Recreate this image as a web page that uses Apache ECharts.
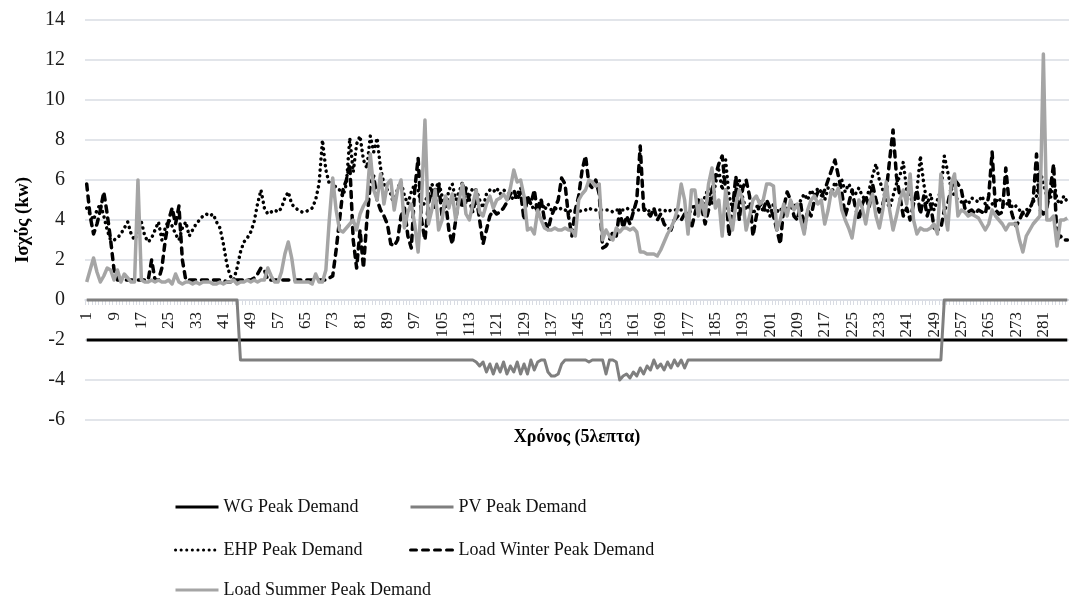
<!DOCTYPE html>
<html>
<head>
<meta charset="utf-8">
<script src="https://cdn.jsdelivr.net/npm/echarts@6/dist/echarts.min.js"></script>
<style>
  html, body { margin: 0; padding: 0; background: #fff; }
  #chart { width: 1069px; height: 600px; }
</style>
</head>
<body>
<div id="chart"></div>
<script>
// 5-minute slots of one day: 1..288
const slots = [];
for (let i = 1; i <= 288; i++) slots.push(String(i));

const wgPeak = [
  -2, -2, -2, -2, -2, -2, -2, -2, -2, -2, -2, -2, -2, -2, -2, -2,
  -2, -2, -2, -2, -2, -2, -2, -2, -2, -2, -2, -2, -2, -2, -2, -2,
  -2, -2, -2, -2, -2, -2, -2, -2, -2, -2, -2, -2, -2, -2, -2, -2,
  -2, -2, -2, -2, -2, -2, -2, -2, -2, -2, -2, -2, -2, -2, -2, -2,
  -2, -2, -2, -2, -2, -2, -2, -2, -2, -2, -2, -2, -2, -2, -2, -2,
  -2, -2, -2, -2, -2, -2, -2, -2, -2, -2, -2, -2, -2, -2, -2, -2,
  -2, -2, -2, -2, -2, -2, -2, -2, -2, -2, -2, -2, -2, -2, -2, -2,
  -2, -2, -2, -2, -2, -2, -2, -2, -2, -2, -2, -2, -2, -2, -2, -2,
  -2, -2, -2, -2, -2, -2, -2, -2, -2, -2, -2, -2, -2, -2, -2, -2,
  -2, -2, -2, -2, -2, -2, -2, -2, -2, -2, -2, -2, -2, -2, -2, -2,
  -2, -2, -2, -2, -2, -2, -2, -2, -2, -2, -2, -2, -2, -2, -2, -2,
  -2, -2, -2, -2, -2, -2, -2, -2, -2, -2, -2, -2, -2, -2, -2, -2,
  -2, -2, -2, -2, -2, -2, -2, -2, -2, -2, -2, -2, -2, -2, -2, -2,
  -2, -2, -2, -2, -2, -2, -2, -2, -2, -2, -2, -2, -2, -2, -2, -2,
  -2, -2, -2, -2, -2, -2, -2, -2, -2, -2, -2, -2, -2, -2, -2, -2,
  -2, -2, -2, -2, -2, -2, -2, -2, -2, -2, -2, -2, -2, -2, -2, -2,
  -2, -2, -2, -2, -2, -2, -2, -2, -2, -2, -2, -2, -2, -2, -2, -2,
  -2, -2, -2, -2, -2, -2, -2, -2, -2, -2, -2, -2, -2, -2, -2, -2
];

const pvPeak = [
  0, 0, 0, 0, 0, 0, 0, 0, 0, 0, 0, 0, 0, 0, 0, 0,
  0, 0, 0, 0, 0, 0, 0, 0, 0, 0, 0, 0, 0, 0, 0, 0,
  0, 0, 0, 0, 0, 0, 0, 0, 0, 0, 0, 0, 0, -3, -3, -3,
  -3, -3, -3, -3, -3, -3, -3, -3, -3, -3, -3, -3, -3, -3, -3, -3,
  -3, -3, -3, -3, -3, -3, -3, -3, -3, -3, -3, -3, -3, -3, -3, -3,
  -3, -3, -3, -3, -3, -3, -3, -3, -3, -3, -3, -3, -3, -3, -3, -3,
  -3, -3, -3, -3, -3, -3, -3, -3, -3, -3, -3, -3, -3, -3, -3, -3,
  -3, -3, -3.1, -3.3, -3.1, -3.6, -3.2, -3.7, -3.2, -3.6, -3.1, -3.7, -3.3, -3.6, -3.1, -3.7,
  -3.2, -3.7, -3.0, -3.5, -3.1, -3.0, -3.0, -3.6, -3.8, -3.8, -3.7, -3.2, -3.0, -3.0, -3.0, -3.0,
  -3.0, -3.0, -3.0, -3.1, -3.0, -3.0, -3.0, -3.0, -3.7, -3.0, -3.0, -3.1, -4.0, -3.8, -3.7, -3.9,
  -3.6, -3.8, -3.4, -3.7, -3.3, -3.5, -3.0, -3.4, -3.2, -3.5, -3.1, -3.4, -3.0, -3.3, -3.0, -3.4,
  -3, -3, -3, -3, -3, -3, -3, -3, -3, -3, -3, -3, -3, -3, -3, -3,
  -3, -3, -3, -3, -3, -3, -3, -3, -3, -3, -3, -3, -3, -3, -3, -3,
  -3, -3, -3, -3, -3, -3, -3, -3, -3, -3, -3, -3, -3, -3, -3, -3,
  -3, -3, -3, -3, -3, -3, -3, -3, -3, -3, -3, -3, -3, -3, -3, -3,
  -3, -3, -3, -3, -3, -3, -3, -3, -3, -3, -3, 0, 0, 0, 0, 0,
  0, 0, 0, 0, 0, 0, 0, 0, 0, 0, 0, 0, 0, 0, 0, 0,
  0, 0, 0, 0, 0, 0, 0, 0, 0, 0, 0, 0, 0, 0, 0, 0
];

const ehpPeak = [
  4.6, 4.3, 4.0, 4.5, 4.8, 4.2, 3.5, 3.0, 3.0, 3.1, 3.3, 3.6, 3.9, 3.3, 3.0, 3.4,
  3.9, 3.2, 2.9, 3.1, 3.5, 3.9, 3.0, 3.6, 4.0, 3.7, 3.3, 3.0, 3.6, 3.9, 3.2, 3.5,
  3.8, 4.0, 4.2, 4.3, 4.2, 4.3, 3.9, 3.6, 2.8, 1.8, 1.2, 1.0, 1.6, 2.4, 2.9, 3.1,
  3.4, 3.9, 4.8, 5.5, 4.6, 4.3, 4.4, 4.5, 4.4, 4.6, 5.1, 5.4, 4.8, 4.6, 4.5, 4.4,
  4.4, 4.5, 4.6, 5.0, 5.8, 8.0, 6.5, 5.8, 5.9, 5.6, 5.5, 5.2, 5.8, 8.1, 6.4, 7.8,
  8.2, 7.0, 6.6, 8.2, 7.4, 8.1, 6.6, 5.8, 5.5, 5.3, 4.7, 5.6, 5.9, 5.2, 4.8, 5.4,
  5.8, 5.5, 4.6, 4.9, 5.3, 5.8, 5.5, 5.9, 5.2, 4.6, 5.5, 5.8, 5.0, 5.4, 5.9, 4.8,
  5.2, 5.6, 5.5, 5.0, 4.6, 5.3, 5.5, 5.4, 5.6, 5.3, 5.5, 5.4, 5.2, 5.0, 5.3, 5.6,
  5.2, 5.0, 4.8, 4.5, 4.7, 5.0, 4.5, 4.8, 4.5, 4.6, 4.5, 4.6, 4.5, 4.4, 4.5, 4.5,
  4.4, 4.5, 4.5, 4.6, 4.5, 4.5, 4.5, 4.5, 4.5, 4.5, 4.4, 4.5, 4.5, 4.5, 4.6, 4.5,
  4.5, 4.5, 4.5, 4.5, 4.4, 4.5, 4.5, 4.5, 4.5, 4.5, 4.4, 4.5, 4.5, 4.5, 4.5, 4.4,
  4.3, 4.5, 4.8, 4.4, 4.6, 5.2, 5.6, 4.8, 5.8, 6.5, 5.5, 7.0, 5.2, 4.6, 5.5, 6.0,
  5.1, 4.5, 4.8, 4.3, 4.6, 5.0, 4.4, 4.6, 4.2, 4.8, 4.4, 4.6, 4.3, 4.7, 4.5, 4.8,
  4.6, 5.0, 5.3, 5.0, 5.5, 5.2, 5.6, 5.4, 5.0, 5.6, 5.3, 5.9, 5.5, 6.0, 5.4, 5.8,
  5.5, 5.3, 5.6, 5.2, 5.0, 5.5, 6.2, 6.8, 6.0, 5.5, 5.0, 4.6, 5.2, 5.8, 6.2, 6.9,
  5.5, 5.2, 4.8, 5.5, 7.2, 5.8, 4.8, 5.3, 4.5, 5.0, 5.5, 7.2, 6.4, 5.6, 5.2, 5.0,
  4.9, 5.0, 4.8, 5.1, 5.0, 4.9, 5.2, 4.8, 4.6, 4.8, 4.9, 5.1, 4.8, 4.7, 5.0, 4.6,
  4.7, 4.5, 4.3, 4.5, 4.6, 4.9, 5.2, 6.5, 5.8, 5.2, 5.0, 6.0, 5.0, 4.8, 5.2, 4.9
];

const loadWinterPeak = [
  5.8, 4.2, 3.3, 3.8, 4.5, 5.4, 4.3, 3.0, 1.5, 1.0, 1.0, 1.0, 1.0, 1.0, 1.0, 1.0,
  1.0, 1.0, 1.0, 2.0, 1.0, 1.0, 1.6, 3.0, 4.0, 4.6, 3.8, 4.7, 2.0, 1.0, 1.0, 1.0,
  1.0, 1.0, 1.0, 1.0, 1.0, 1.0, 1.0, 1.0, 1.0, 0.9, 0.9, 1.0, 1.0, 1.0, 1.0, 1.0,
  1.0, 1.1, 1.3, 1.6, 1.5, 1.0, 1.0, 1.0, 1.0, 1.0, 1.0, 1.0, 1.0, 1.0, 1.0, 1.0,
  1.0, 1.0, 1.0, 1.0, 1.0, 1.0, 1.0, 1.1, 1.2, 2.5, 4.0, 5.5, 6.0, 6.8, 3.0, 1.6,
  3.5, 1.6, 4.0, 5.8, 6.2, 5.0, 4.5, 4.2, 3.8, 2.8, 2.7, 3.0, 4.2, 4.6, 3.2, 2.6,
  5.5, 7.1, 4.0, 3.0, 4.8, 5.5, 4.5, 5.8, 4.2, 5.0, 3.5, 2.8, 4.0, 5.2, 4.6, 5.6,
  5.0, 4.4, 5.2, 4.0, 2.8, 3.5, 4.2, 4.5, 4.3, 4.4, 4.6, 4.9, 5.3, 5.5, 5.0, 5.4,
  4.0, 5.2, 4.8, 5.5, 4.3, 5.0, 4.0, 3.5, 4.2, 4.6, 5.0, 6.1, 5.8, 4.2, 3.2, 4.5,
  5.2, 6.5, 7.2, 5.8, 5.6, 6.0, 5.3, 2.6, 2.7, 3.0, 3.4, 3.2, 4.5, 3.6, 4.2, 3.8,
  4.4, 5.0, 7.7, 4.6, 4.4, 4.2, 4.6, 4.0, 4.3, 3.8, 3.6, 3.5, 4.0, 4.2, 4.0, 4.3,
  4.0, 3.6, 4.3, 5.0, 4.6, 3.8, 4.5, 5.5, 6.2, 6.8, 7.2, 5.5, 3.2, 4.5, 6.2, 4.0,
  5.6, 6.0, 5.2, 3.2, 4.2, 4.8, 4.5, 5.0, 4.6, 4.2, 3.5, 2.8, 4.6, 5.4, 5.0, 4.2,
  4.0, 4.8, 3.5, 4.5, 4.2, 5.0, 5.4, 5.2, 5.5, 6.0, 6.5, 7.0, 6.2, 5.4, 4.2, 4.8,
  5.5, 4.6, 4.0, 4.8, 5.2, 4.6, 5.8, 5.0, 4.4, 4.8, 5.4, 7.0, 8.5, 6.2, 5.2, 4.2,
  4.6, 4.0, 4.8, 5.5, 4.3, 5.2, 4.2, 4.8, 3.6, 3.5, 3.6, 4.5, 4.8, 5.6, 6.0, 5.8,
  5.5, 4.6, 4.4, 4.5, 4.3, 4.5, 4.4, 4.3, 5.2, 7.4, 4.5, 4.3, 4.4, 6.6, 4.8, 4.2,
  3.7, 4.0, 4.4, 4.2, 4.5, 5.0, 7.3, 4.5, 4.3, 4.6, 5.5, 6.8, 3.0, 3.2, 3.0, 3.0
];

const loadSummerPeak = [
  0.9, 1.5, 2.1, 1.4, 0.9, 1.2, 1.6, 1.5, 1.0, 1.5, 0.9, 1.3, 1.1, 0.9, 0.9, 6.0,
  1.0, 0.9, 0.9, 1.0, 0.9, 1.0, 0.9, 0.9, 1.0, 0.8, 1.3, 0.9, 0.8, 0.9, 0.9, 0.8,
  0.9, 0.8, 0.9, 0.9, 0.9, 0.8, 0.8, 0.9, 0.8, 0.9, 0.9, 1.0, 0.8, 0.9, 0.9, 1.0,
  0.9, 1.0, 0.9, 1.0, 1.0, 1.6, 1.2, 0.9, 0.9, 1.4, 2.3, 2.9, 2.1, 0.9, 0.9, 0.9,
  0.9, 0.9, 0.8, 1.3, 0.9, 0.9, 1.5, 4.0, 6.1, 4.5, 3.5, 3.4, 3.6, 3.8, 4.0, 3.5,
  4.3, 4.7, 5.0, 7.3, 5.5, 5.0, 6.3, 4.8, 5.8, 6.0, 4.5, 5.5, 6.0, 3.6, 4.4, 4.8,
  3.8, 2.4, 5.0, 9.0, 3.8, 4.5, 5.5, 3.5, 4.0, 5.2, 4.6, 5.3, 4.0, 5.0, 5.8, 4.3,
  4.0, 4.8, 5.5, 4.4, 4.2, 4.8, 5.2, 4.6, 5.0, 5.1, 5.3, 5.0, 5.6, 6.5, 5.9, 6.0,
  5.2, 3.5, 3.6, 3.3, 4.5, 4.0, 3.6, 3.5, 3.5, 3.6, 3.5, 3.5, 3.6, 3.5, 3.5, 3.2,
  5.0, 5.3, 5.5, 6.0, 5.9, 5.7, 5.8, 3.0, 3.5, 3.2, 3.0, 3.6, 3.4, 3.6, 3.6, 3.5,
  3.6, 3.4, 2.4, 2.4, 2.3, 2.3, 2.3, 2.2, 2.5, 2.9, 3.3, 3.6, 4.0, 4.6, 5.8, 5.0,
  3.3, 5.5, 5.5, 4.2, 5.0, 4.2, 5.8, 6.6, 4.6, 5.0, 3.2, 5.5, 4.3, 3.5, 4.8, 5.5,
  5.0, 3.5, 4.2, 5.0, 5.2, 4.8, 5.0, 5.8, 5.8, 5.7, 3.5, 4.0, 4.8, 4.2, 5.0, 4.5,
  4.8, 4.0, 3.3, 4.5, 5.0, 5.2, 4.8, 5.0, 3.8, 4.5, 5.5, 5.2, 5.6, 4.5, 4.0, 3.6,
  3.1, 4.2, 5.0, 4.6, 3.8, 4.8, 5.3, 4.2, 3.6, 4.5, 5.9, 4.5, 3.5, 4.2, 5.0, 5.5,
  4.8, 6.3, 4.0, 3.3, 3.6, 3.5, 3.5, 3.6, 3.8, 3.3, 6.3, 4.5, 3.5, 5.8, 6.3, 4.2,
  4.5, 4.4, 4.2, 4.3, 4.2, 4.1, 3.8, 3.5, 3.8, 4.5, 4.2, 4.0, 3.8, 3.5, 3.8, 3.8,
  3.8, 3.0, 2.4, 3.2, 3.5, 3.8, 4.0, 4.2, 12.3, 4.0, 4.0, 4.2, 2.7, 4.0, 4.0, 4.1
];

const serif = 'Liberation Serif, Times New Roman, serif';
const gridColor = '#d9dce3';

// one legend box per entry so the two columns line up like the original
function legendItem(name, left, top) {
  return {
    left: left,
    top: top,
    padding: 0,
    itemWidth: 43,
    itemHeight: 14,
    selectedMode: false,
    itemStyle: { opacity: 0 },
    lineStyle: { width: 3 },
    textStyle: { fontFamily: serif, fontSize: 18, color: '#111' },
    data: [name]
  };
}

const chart = echarts.init(document.getElementById('chart'));

const option = {
  animation: false,
  backgroundColor: '#fff',
  grid: { left: 85, right: -8, top: 20, bottom: 180 },
  legend: [
    legendItem('WG Peak Demand', 174, 498),
    legendItem('PV Peak Demand', 409, 498),
    legendItem('EHP Peak Demand', 174, 541),
    legendItem('Load Winter Peak Demand', 409, 541),
    legendItem('Load Summer Peak Demand', 174, 581)
  ],
  xAxis: {
    type: 'category',
    data: slots,
    boundaryGap: true,
    offset: -120,
    name: 'Χρόνος (5λεπτα)',
    nameLocation: 'middle',
    nameGap: 128,
    nameTextStyle: { fontFamily: serif, fontSize: 18, fontWeight: 'bold', color: '#000' },
    axisLine: { onZero: false, lineStyle: { color: gridColor, width: 1.5 } },
    axisTick: { show: true, interval: 0, length: 5, lineStyle: { color: gridColor } },
    axisLabel: { interval: 7, rotate: 90, margin: 12, fontFamily: serif, fontSize: 17, color: '#1a1a1a' },
    splitLine: { show: false }
  },
  yAxis: {
    type: 'value',
    min: -6,
    max: 14,
    interval: 2,
    name: 'Ισχύς (kw)',
    nameLocation: 'middle',
    nameGap: 52,
    nameTextStyle: { fontFamily: serif, fontSize: 19, fontWeight: 'bold', color: '#000' },
    axisLine: { show: false },
    axisTick: { show: false },
    axisLabel: { margin: 20, fontFamily: serif, fontSize: 20, color: '#1a1a1a' },
    splitLine: { lineStyle: { color: gridColor, width: 1.5 } }
  },
  series: [
    {
      name: 'WG Peak Demand', type: 'line', data: wgPeak,
      symbol: 'none', color: '#000',
      lineStyle: { color: '#000', width: 3 }
    },
    {
      name: 'PV Peak Demand', type: 'line', data: pvPeak,
      symbol: 'none', color: '#7f7f7f',
      lineStyle: { color: '#7f7f7f', width: 3, join: 'round' }
    },
    {
      name: 'EHP Peak Demand', type: 'line', data: ehpPeak,
      symbol: 'none', color: '#000',
      lineStyle: { color: '#000', width: 3.5, type: [0.1, 5.5], cap: 'round', join: 'round' }
    },
    {
      name: 'Load Winter Peak Demand', type: 'line', data: loadWinterPeak,
      symbol: 'none', color: '#000',
      lineStyle: { color: '#000', width: 3.5, type: [6, 6], cap: 'round', join: 'round' }
    },
    {
      name: 'Load Summer Peak Demand', type: 'line', data: loadSummerPeak,
      symbol: 'none', color: '#a5a5a5',
      lineStyle: { color: '#a5a5a5', width: 3.5, join: 'round' }
    }
  ]
};

chart.setOption(option);
</script>
</body>
</html>
